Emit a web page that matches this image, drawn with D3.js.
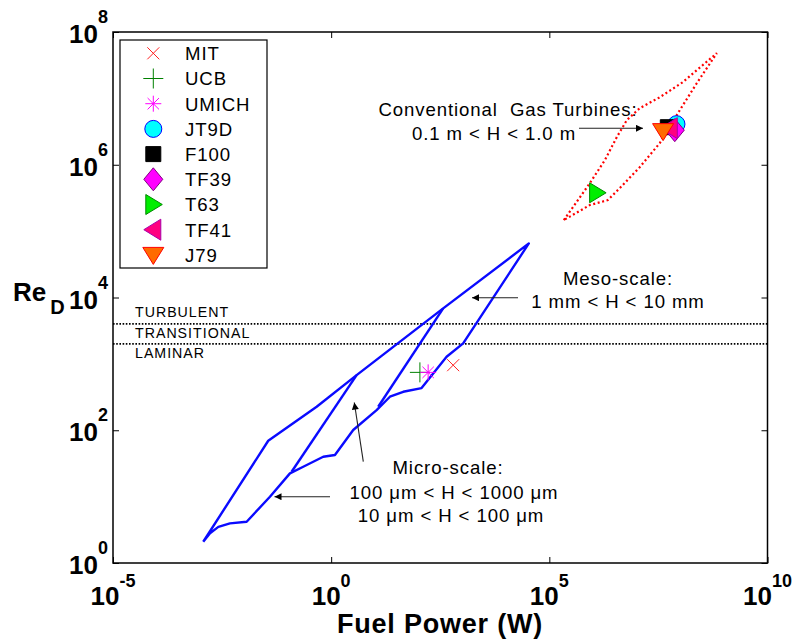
<!DOCTYPE html>
<html><head><meta charset="utf-8">
<script src="https://cdn.jsdelivr.net/npm/d3@7"></script>
<style>
body{margin:0;background:#fff}
svg{display:block}
text{font-family:"Liberation Sans",Arial,Helvetica,sans-serif;fill:#000;white-space:pre}
</style>
</head><body>
<svg id="c" width="798" height="641"></svg>
<script>
// ---------------- data ----------------
const xTicks = [1e-5, 1e0, 1e5, 1e10];
const xTickExp = ["-5", "0", "5", "10"];
const yTicks = [1e0, 1e2, 1e4, 1e6, 1e8];
const yTickExp = ["0", "2", "4", "6", "8"];

const regimeRe = [2000, 4000];
const regimeLabels = ["TURBULENT", "TRANSITIONAL", "LAMINAR"];

// outline of micro + meso-scale region: [fuel power W, Re_D]
const smallScaleOutline = [
  [1.17e-3, 2.09], [3.61e-2, 69.5], [0.465, 226], [3.83, 678], [369, 6855], [3.39e4, 6.53e4],
  [1059, 2037], [442, 1279], [118, 432], [44.8, 380], [22.2, 320], [11.0, 201],
  [3.20, 101], [1.22, 42.4], [0.658, 39.9], [0.229, 28.2], [0.1135, 22.4], [0.0395, 9.95],
  [0.01156, 4.19], [4.79e-3, 3.96], [2.6e-3, 3.5], [1.67e-3, 2.80], [1.17e-3, 2.09]
];
const mesoMicroDivider = [[369, 6855], [11.97, 226]];
const microDivider = [[3.83, 678], [0.124, 23.7]];

// conventional gas turbine region
const gasTurbineOutline = [
  [2.15e5, 1.466e5], [8.47e5, 5.28e5], [1.87e6, 1.17e6], [3.52e6, 2.61e6], [5.96e6, 4.70e6],
  [1.18e7, 7.11e6], [3.40e7, 1.04e7], [1.14e8, 1.75e7], [6.89e8, 4.80e7],
  [2.39e8, 1.69e7], [9.77e7, 6.64e6], [3.40e7, 2.12e6], [1.18e7, 9.20e5], [4.12e6, 4.44e5],
  [2.19e6, 2.93e5], [8.47e5, 2.47e5], [2.15e5, 1.466e5]
];

const deviceNames = ["MIT", "UCB", "UMICH", "JT9D", "F100", "TF39", "T63", "TF41", "J79"];
const devicePower = [625, 108, 167, 8.2e7, 5.19e7, 7.5e7, 1.245e6, 5.77e7, 4.05e7];
const deviceRe = [955, 745, 745, 4.09e6, 3.68e6, 3.32e6, 3.78e5, 3.56e6, 3.21e6];

// ---------------- styles ----------------
const markerStyle = {
  MIT:   {type: "times", fill: "none", stroke: "#ff2020", sw: 1},
  UCB:   {type: "plus", fill: "none", stroke: "#008000", sw: 1},
  UMICH: {type: "star", fill: "none", stroke: "#ff00ff", sw: 1},
  JT9D:  {type: "circle", fill: "#00ffff", stroke: "#0000ff", sw: 1},
  F100:  {type: "square", fill: "#000000", stroke: "#000000", sw: 1},
  TF39:  {type: "diamond", fill: "#ff00ff", stroke: "#800080", sw: 1},
  T63:   {type: "triRight", fill: "#00ee00", stroke: "#008800", sw: 1},
  TF41:  {type: "triLeft", fill: "#ff0080", stroke: "#aa00aa", sw: 1},
  J79:   {type: "triDown", fill: "#ff6a00", stroke: "#ff0000", sw: 1}
};

const symTypes = {
  times: {draw(c){const r=6; c.moveTo(-r,-r); c.lineTo(r,r); c.moveTo(r,-r); c.lineTo(-r,r);}},
  plus: {draw(c){const r=10; c.moveTo(-r,0); c.lineTo(r,0); c.moveTo(0,-r); c.lineTo(0,r);}},
  star: {draw(c){const r=8, d=5.7; c.moveTo(-r,0); c.lineTo(r,0); c.moveTo(0,-r); c.lineTo(0,r);
    c.moveTo(-d,-d); c.lineTo(d,d); c.moveTo(d,-d); c.lineTo(-d,d);}},
  circle: {draw(c){c.moveTo(8.5,0); c.arc(0,0,8.5,0,2*Math.PI);}},
  square: {draw(c){const r=7.5; c.moveTo(-r,-r); c.lineTo(r,-r); c.lineTo(r,r); c.lineTo(-r,r); c.closePath();}},
  diamond: {draw(c){c.moveTo(0,-11.5); c.lineTo(9.5,0); c.lineTo(0,11.5); c.lineTo(-9.5,0); c.closePath();}},
  triRight: {draw(c){c.moveTo(-7.5,-10); c.lineTo(9,0); c.lineTo(-7.5,10); c.closePath();}},
  triLeft: {draw(c){c.moveTo(7.5,-10.5); c.lineTo(-9.5,0); c.lineTo(7.5,10.5); c.closePath();}},
  triDown: {draw(c){c.moveTo(-10.5,-7.5); c.lineTo(10.5,-7.5); c.lineTo(0,9.5); c.closePath();}}
};

// ---------------- chart ----------------
const svg = d3.select("#c");
const L = 113, R = 767.5, T = 32, B = 563;
const x = d3.scaleLog().domain([1e-5, 1e10]).range([L, R]);
const y = d3.scaleLog().domain([1, 1e8]).range([B, T]);
const line = d3.line().x(d => x(d[0])).y(d => y(d[1]));

// regime lines
svg.append("g").selectAll("line").data(regimeRe).join("line")
  .attr("x1", L).attr("x2", R).attr("y1", d => y(d)).attr("y2", d => y(d))
  .attr("stroke", "#000").attr("stroke-width", 1.6).attr("stroke-dasharray", "1.6,1.6");
const regimeY = [317, 337.5, 358];
svg.append("g").selectAll("text").data(regimeLabels).join("text")
  .attr("x", 135).attr("y", (d, i) => regimeY[i])
  .attr("font-size", "14.2px").attr("letter-spacing", "1px").text(d => d);

// blue region
const blue = svg.append("g").attr("fill", "none").attr("stroke", "#0a0aff")
  .attr("stroke-width", 2.4).attr("stroke-linejoin", "round");
blue.append("path").attr("d", line(smallScaleOutline));
blue.append("path").attr("d", line(mesoMicroDivider));
blue.append("path").attr("d", line(microDivider));

// red dotted region
svg.append("path").attr("d", line(gasTurbineOutline)).attr("fill", "none")
  .attr("stroke", "#ff0000").attr("stroke-width", 2.2).attr("stroke-dasharray", "2,2.6");

// frame + ticks
svg.append("rect").attr("x", L).attr("y", T).attr("width", R - L).attr("height", B - T)
  .attr("fill", "none").attr("stroke", "#000").attr("stroke-width", 1.5);
function tickAxis(axis, tr, vals){
  svg.append("g").attr("transform", tr)
    .call(axis.tickValues(vals).tickSize(6).tickFormat(""))
    .call(g => g.select(".domain").remove())
    .call(g => g.selectAll("line").attr("stroke", "#000").attr("stroke-width", 1));
}
tickAxis(d3.axisTop(x), `translate(0,${B})`, xTicks);
tickAxis(d3.axisBottom(x), `translate(0,${T})`, xTicks);
tickAxis(d3.axisRight(y), `translate(${L},0)`, yTicks);
tickAxis(d3.axisLeft(y), `translate(${R},0)`, yTicks);

// tick labels
const xl = svg.append("g").selectAll("text").data(xTicks).join("text")
  .attr("x", d => x(d)).attr("y", 605).attr("text-anchor", "middle")
  .attr("font-weight", "bold").attr("font-size", "26px");
xl.append("tspan").text("10");
xl.append("tspan").attr("font-size", "18px").attr("dy", -18).text((d, i) => xTickExp[i]);

const yl = svg.append("g").selectAll("text").data(yTicks).join("text")
  .attr("x", 108).attr("y", d => y(d) + 11).attr("text-anchor", "end")
  .attr("font-weight", "bold").attr("font-size", "26px");
yl.append("tspan").text("10");
yl.append("tspan").attr("font-size", "18px").attr("dy", -20).text((d, i) => yTickExp[i]);

// axis titles
const yt = svg.append("text").attr("x", 13).attr("y", 301).attr("font-weight", "bold").attr("font-size", "26px");
yt.append("tspan").text("Re");
yt.append("tspan").attr("font-size", "20px").attr("dy", 13).attr("dx", 4).text("D");
svg.append("text").attr("x", 440).attr("y", 633).attr("text-anchor", "middle")
  .attr("font-weight", "bold").attr("font-size", "27px").attr("letter-spacing", "0.8px")
  .text("Fuel Power (W)");

// annotations
const ann = [
  {t: "Conventional  Gas Turbines:", x: 508, y: 116},
  {t: "0.1 m < H < 1.0 m", x: 494, y: 140},
  {t: "Meso-scale:", x: 618, y: 285},
  {t: "1 mm < H < 10 mm", x: 618, y: 308},
  {t: "Micro-scale:", x: 448, y: 474},
  {t: "100 \u03bcm < H < 1000 \u03bcm", x: 454, y: 499},
  {t: "10 \u03bcm < H < 100 \u03bcm", x: 451, y: 522}
];
svg.append("g").selectAll("text").data(ann).join("text")
  .attr("x", d => d.x).attr("y", d => d.y).attr("text-anchor", "middle")
  .attr("font-size", "18.6px").attr("letter-spacing", "0.9px").text(d => d.t);

svg.append("defs").append("marker").attr("id", "ah").attr("viewBox", "0 0 10 10")
  .attr("refX", 10).attr("refY", 5).attr("markerWidth", 12).attr("markerHeight", 7)
  .attr("markerUnits", "userSpaceOnUse").attr("orient", "auto")
  .append("path").attr("d", "M0,0L10,5L0,10Z").attr("fill", "#000");
const arrows = [
  [579, 128.3, 643, 128.3],
  [518, 297.7, 472, 297.7],
  [363.3, 461.7, 354.3, 402.5],
  [330, 496.7, 274.5, 496.7]
];
svg.append("g").selectAll("line").data(arrows).join("line")
  .attr("x1", d => d[0]).attr("y1", d => d[1]).attr("x2", d => d[2]).attr("y2", d => d[3])
  .attr("stroke", "#222").attr("stroke-width", 1.1).attr("marker-end", "url(#ah)");

// data markers
const sym = d3.symbol();
svg.append("g").selectAll("path").data(deviceNames).join("path")
  .attr("transform", (d, i) => `translate(${x(devicePower[i])},${y(deviceRe[i])})`)
  .attr("d", d => sym.type(symTypes[markerStyle[d].type])())
  .attr("fill", d => markerStyle[d].fill).attr("stroke", d => markerStyle[d].stroke)
  .attr("stroke-width", d => markerStyle[d].sw);

// legend
const lg = svg.append("g");
lg.append("rect").attr("x", 120).attr("y", 40).attr("width", 147).attr("height", 228)
  .attr("fill", "#fff").attr("stroke", "#000").attr("stroke-width", 1.2);
const rows = lg.selectAll("g.row").data(deviceNames).join("g").attr("class", "row")
  .attr("transform", (d, i) => `translate(0,${53.3 + i * 25.2})`);
rows.append("path").attr("transform", "translate(153.3,0)")
  .attr("d", d => sym.type(symTypes[markerStyle[d].type])())
  .attr("fill", d => markerStyle[d].fill).attr("stroke", d => markerStyle[d].stroke)
  .attr("stroke-width", d => markerStyle[d].sw);
rows.append("text").attr("x", 185).attr("y", 6.8)
  .attr("font-size", "18.6px").attr("letter-spacing", "0.9px").text(d => d);
</script>
</body></html>
